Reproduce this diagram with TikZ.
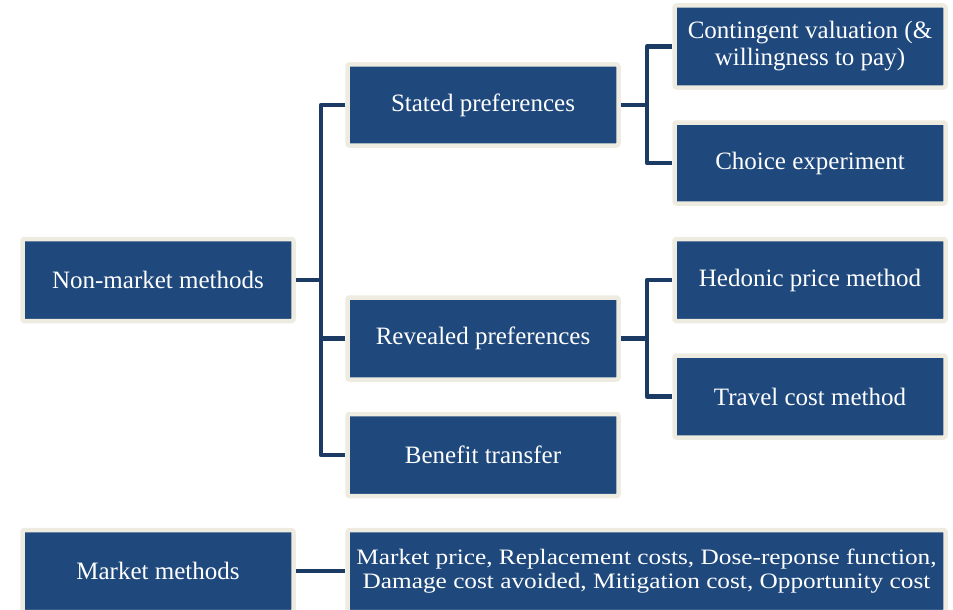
\documentclass[tikz,border=0pt]{standalone}
\usepackage{fontspec}
\setmainfont{Liberation Serif}
\newfontfamily\listfont[FakeStretch=1.15]{Liberation Serif}
\usetikzlibrary{positioning}
\definecolor{boxblue}{RGB}{31,73,125}
\definecolor{boxrim}{RGB}{238,236,225}
\definecolor{linkblue}{RGB}{27,58,100}

\begin{document}
\begin{tikzpicture}[x=1pt,y=-1pt,line join=round,method/.style={rectangle, rounded corners=2pt, draw=boxrim, line width=4.5pt, fill=boxblue, text=white, align=center, inner sep=0pt, minimum width=271pt, minimum height=82pt, font=\fontsize{25}{27}\selectfont},wide/.style={method, minimum width=598pt, font=\listfont\fontsize{22}{23.5}\selectfont},link/.style={draw=linkblue, line width=4.5pt}]

                \useasboundingbox (0,0) rectangle (953,610);

                \node[method] (nm) at (158,280) {Non-market methods};
                \node[method, minimum height=81pt] (sp) at (483,105) {Stated preferences};
                \node[method] (rp) at (483,338.5) {Revealed preferences};
                \node[method] (bt) at (483,455) {Benefit transfer};
                \node[method] (cv) at (810,46.5) {Contingent valuation (\&\\willingness to pay)};
                \node[method, minimum height=81pt] (ce) at (810,163) {Choice experiment};
                \node[method] (hp) at (810,280) {Hedonic price method};
                \node[method] (tc) at (810,396.5) {Travel cost method};
                \node[method] (mm) at (158,571) {Market methods};
                \node[wide] (ml) at (646.5,571) {Market price, Replacement costs, Dose-reponse function,\\Damage cost avoided, Mitigation cost, Opportunity cost};

                \coordinate (t0) at (321,280);
                \coordinate (t1) at (647,105);
                \coordinate (t2) at (647,338.5);

                \path[link]
                    (nm) edge (t0)
                    (sp) edge (t1)
                    (rp) edge (t2)
                    (mm) edge (ml)
                ;
                \draw[link] (sp.west) -| (t0) |- (bt.west);
                \draw[link] (t0 |- rp.west) -- (rp.west);
                \draw[link] (cv.west) -| (t1) |- (ce.west);
                \draw[link] (hp.west) -| (t2) |- (tc.west);
            \end{tikzpicture}
\end{document}
